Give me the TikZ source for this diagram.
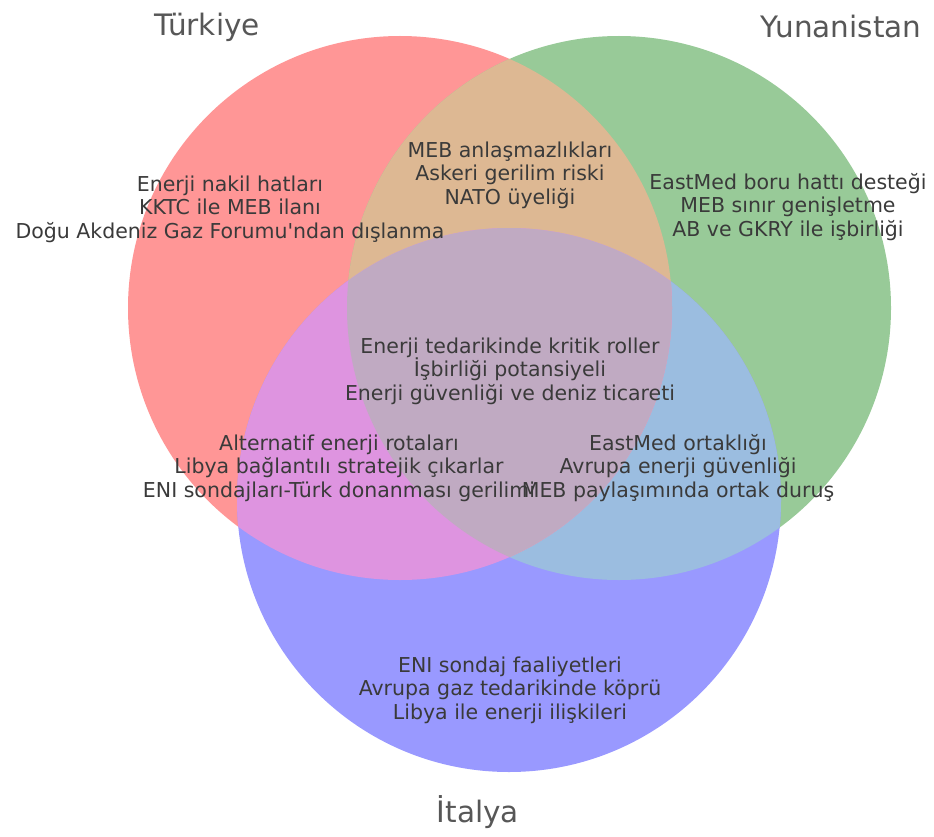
\documentclass[tikz,border=0pt]{standalone}
\usepackage{fontspec}
\setmainfont{DejaVu Sans}
\newfontfamily\vennfont{DejaVu Sans}
\definecolor{onlyT}{RGB}{255,150,150}
\definecolor{onlyY}{RGB}{152,202,152}
\definecolor{onlyI}{RGB}{153,153,255}
\definecolor{TY}{RGB}{221,184,147}
\definecolor{TI}{RGB}{222,148,224}
\definecolor{YI}{RGB}{155,189,224}
\definecolor{TYI}{RGB}{192,170,194}
\definecolor{txt}{RGB}{58,58,58}
\begin{document}
\begin{tikzpicture}[x=1pt,y=-1pt,
    setlbl/.style={text=txt!85!white,font=\vennfont\fontsize{29.5}{33}\selectfont,inner sep=0pt},
    sublbl/.style={text=txt,font=\vennfont\fontsize{20.5}{23.5}\selectfont,align=center,inner sep=0pt}]
\useasboundingbox (0,0) rectangle (934,837);
\coordinate (T) at (400,308);
\coordinate (Y) at (619,308);
\coordinate (I) at (509,500);
% circles
\fill[onlyT] (T) circle (272pt);
\fill[onlyY] (Y) circle (272pt);
\fill[onlyI] (I) circle (272pt);
\begin{scope}
    \clip (Y) circle (272pt);
    \fill[YI] (I) circle (272pt);
\end{scope}
\begin{scope}
    \clip (T) circle (272pt);
    \fill[TY] (Y) circle (272pt);
    \fill[TI] (I) circle (272pt);
    \clip (Y) circle (272pt);
    \fill[TYI] (I) circle (272pt);
\end{scope}
% set names
\node[setlbl] (lT) at (207,27) {Türkiye};
\node[setlbl] (lY) at (841,27) {Yunanistan};
\node[setlbl] (lI) at (478,812) {İtalya};
% subsets
\node[sublbl] (sT) at (230,209) {Enerji nakil hatları\\KKTC ile MEB ilanı\\Doğu Akdeniz Gaz Forumu'ndan dışlanma};
\node[sublbl] (sTY) at (510,175) {MEB anlaşmazlıkları\\Askeri gerilim riski\\NATO üyeliği};
\node[sublbl] (sY) at (788,207) {EastMed boru hattı desteği\\MEB sınır genişletme\\AB ve GKRY ile işbirliği};
\node[sublbl] (sTYI) at (510,371) {Enerji tedarikinde kritik roller\\İşbirliği potansiyeli\\Enerji güvenliği ve deniz ticareti};
\node[sublbl] (sTI) at (339,468) {Alternatif enerji rotaları\\Libya bağlantılı stratejik çıkarlar\\ENI sondajları-Türk donanması gerilimi};
\node[sublbl] (sYI) at (678,468) {EastMed ortaklığı\\Avrupa enerji güvenliği\\MEB paylaşımında ortak duruş};
\node[sublbl] (sI) at (510,690) {ENI sondaj faaliyetleri\\Avrupa gaz tedarikinde köprü\\Libya ile enerji ilişkileri};
\end{tikzpicture}
\end{document}
